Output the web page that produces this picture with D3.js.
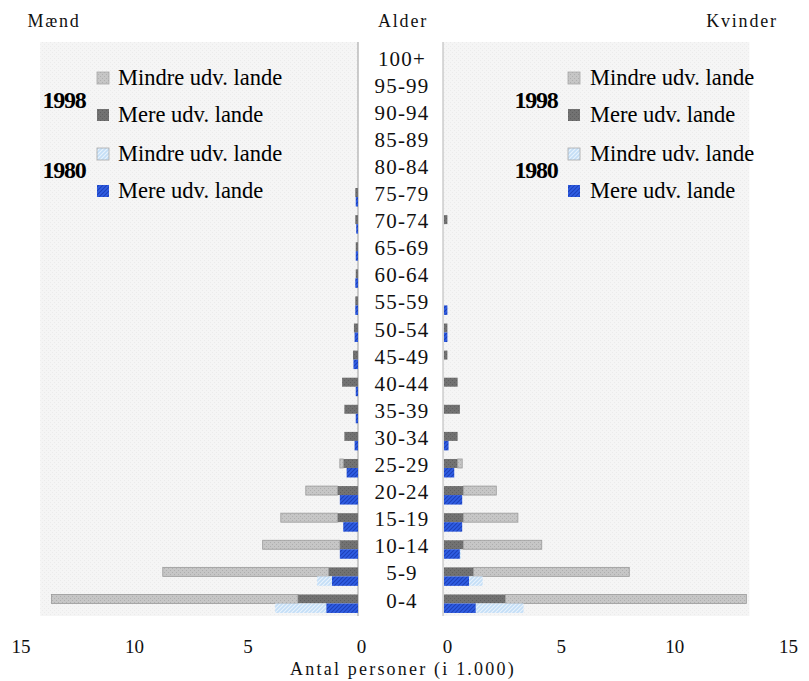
<!DOCTYPE html>
<html>
<head>
<meta charset="utf-8">
<script src="https://cdn.jsdelivr.net/npm/d3@7"></script>
<style>
  html, body { margin: 0; padding: 0; background: #ffffff; }
  svg { display: block; font-family: "Liberation Serif", "DejaVu Serif", serif; }
</style>
</head>
<body>
<svg id="chart" width="809" height="681"></svg>
<script>
// ---- data (thousands of persons) ----
const ages = ["0-4","5-9","10-14","15-19","20-24","25-29","30-34","35-39","40-44","45-49",
              "50-54","55-59","60-64","65-69","70-74","75-79","80-84","85-89","90-94","95-99","100+"];

// Men
const men1998Mere   = [2.65,1.3,0.8,0.9,0.9,0.65,0.6,0.6,0.7,0.22,0.18,0.12,0.1,0.1,0.12,0.12,0,0,0,0,0];
const men1998Mindre = [10.85,7.3,3.4,2.5,1.4,0.15,0,0,0,0,0,0,0,0,0,0,0,0,0,0,0];
const men1980Mere   = [1.4,1.15,0.8,0.65,0.8,0.5,0.15,0.1,0.1,0.2,0.15,0.12,0.12,0.1,0.08,0.1,0,0,0,0,0];
const men1980Mindre = [2.25,0.65,0,0,0,0,0,0,0,0,0,0,0,0,0,0,0,0,0,0,0];

// Women
const women1998Mere   = [2.7,1.3,0.85,0.85,0.85,0.6,0.6,0.7,0.6,0.15,0.15,0,0,0,0.15,0,0,0,0,0,0];
const women1998Mindre = [10.6,6.85,3.45,2.4,1.45,0.2,0,0,0,0,0,0,0,0,0,0,0,0,0,0,0];
const women1980Mere   = [1.4,1.1,0.7,0.8,0.8,0.45,0.2,0,0,0,0.15,0.15,0,0,0,0,0,0,0,0,0];
const women1980Mindre = [2.1,0.6,0.05,0,0,0,0,0,0,0,0,0,0,0,0,0,0,0,0,0,0];

const tickValues = [0, 5, 10, 15];
const legendYears = ["1998", "1980"];
const legendLabels = ["Mindre udv. lande", "Mere udv. lande", "Mindre udv. lande", "Mere udv. lande"];
const legendKeys = ["p98mindre", "p98mere", "p80mindre", "p80mere"];

// ---- layout ----
const svg = d3.select("#chart");
const defs = svg.append("defs");

function pat(id, bg, fg, kind) {
  const p = defs.append("pattern").attr("id", id).attr("patternUnits", "userSpaceOnUse")
    .attr("width", 4).attr("height", 4);
  p.append("rect").attr("width", 4).attr("height", 4).attr("fill", bg);
  if (kind === "dots") {
    p.append("rect").attr("x", 0).attr("y", 0).attr("width", 1).attr("height", 1).attr("fill", fg);
    p.append("rect").attr("x", 2).attr("y", 2).attr("width", 1).attr("height", 1).attr("fill", fg);
  } else if (kind === "diag") {
    p.append("path").attr("d", "M-1,5 L5,-1 M3,5 L5,3 M-1,1 L1,-1").attr("stroke", fg).attr("stroke-width", 1.1);
  }
}
pat("p98mindre", "#c6c6c6", "#aeaeae", "dots");
pat("p98mere", "#727272", "#5e5e5e", "dots");
pat("p80mindre", "#c4def6", "#eaf4fd", "diag");
pat("p80mere", "#2f5ee4", "#1c3fb8", "diag");
pat("pbg", "#f5f5f5", "#ebebeb", "dots");

const yTop = 44.5, yBot = 613.5;
const y = d3.scaleBand().domain(ages.slice().reverse()).range([yTop, yBot]).padding(0);

const xL = d3.scaleLinear().domain([0, 15]).range([358, 17.5]);
const xR = d3.scaleLinear().domain([0, 15]).range([444, 785]);

// panel backgrounds
svg.append("rect").attr("x", xL(14)).attr("y", 42).attr("width", xL(0) - xL(14)).attr("height", 574)
  .attr("fill", "url(#pbg)");
svg.append("rect").attr("x", xR(0) - 1).attr("y", 42).attr("width", xR(13.3) - xR(0) + 4).attr("height", 574)
  .attr("fill", "url(#pbg)");
svg.append("line").attr("x1", xL(0)).attr("x2", xL(0)).attr("y1", 42).attr("y2", 616)
  .attr("stroke", "#9a9a9a").attr("stroke-width", 1);
svg.append("line").attr("x1", xR(0) - 1).attr("x2", xR(0) - 1).attr("y1", 42).attr("y2", 616)
  .attr("stroke", "#b5b5b5").attr("stroke-width", 1);

// ---- bars ----
function buildRows(mere, mindre) {
  return ages.map((a, i) => ({ age: a, mere: mere[i], mindre: mindre[i] }));
}
const stack = d3.stack().keys(["mere", "mindre"]);

const groups = [
  { side: "L", rows: buildRows(men1998Mere, men1998Mindre), off: -5.5, h: 9, fills: ["p98mere", "p98mindre"] },
  { side: "L", rows: buildRows(men1980Mere, men1980Mindre), off: 3.5, h: 9.5, fills: ["p80mere", "p80mindre"] },
  { side: "R", rows: buildRows(women1998Mere, women1998Mindre), off: -5.5, h: 9, fills: ["p98mere", "p98mindre"] },
  { side: "R", rows: buildRows(women1980Mere, women1980Mindre), off: 3.5, h: 9.5, fills: ["p80mere", "p80mindre"] }
];

groups.forEach(g => {
  const x = g.side === "L" ? xL : xR;
  const series = stack(g.rows);
  series.forEach((s, si) => {
    svg.append("g").selectAll("rect").data(s.filter(d => d[1] - d[0] > 0)).join("rect")
      .attr("x", d => Math.min(x(d[0]), x(d[1])))
      .attr("width", d => Math.abs(x(d[1]) - x(d[0])))
      .attr("y", d => y(d.data.age) + y.bandwidth() / 2 + g.off)
      .attr("height", g.h)
      .attr("fill", `url(#${g.fills[si]})`)
      .attr("stroke", si === 1 && g.fills[si] === "p98mindre" ? "#9a9a9a" : "none")
      .attr("stroke-width", 0.8);
  });
});

// ---- age labels ----
svg.append("g").selectAll("text").data(ages).join("text")
  .attr("x", 402)
  .attr("y", d => y(d) + y.bandwidth() / 2)
  .attr("dy", "0.36em")
  .attr("text-anchor", "middle")
  .attr("font-size", 21)
  .attr("letter-spacing", 1.2)
  .attr("fill", "#111")
  .text(d => d);

// ---- axes (tick labels only) ----
const axL = d3.axisBottom(xL).tickValues(tickValues).tickSize(0).tickFormat(d3.format("d"));
const axR = d3.axisBottom(xR).tickValues(tickValues).tickSize(0).tickFormat(d3.format("d"));
[[axL, 3], [axR, 3]].forEach(([ax, dx]) => {
  const g = svg.append("g").attr("transform", `translate(${dx},634)`).call(ax);
  g.select(".domain").remove();
  g.selectAll("text").attr("font-size", 19).attr("font-family", "Liberation Serif, serif").attr("fill", "#111")
    .attr("dy", "0.71em").attr("y", 6);
});

svg.append("text").attr("x", 403).attr("y", 675).attr("text-anchor", "middle")
  .attr("font-size", 18).attr("letter-spacing", 2.2).attr("fill", "#111")
  .text("Antal personer (i 1.000)");

// ---- titles ----
const titles = [{ t: "Mænd", x: 54 }, { t: "Alder", x: 403 }, { t: "Kvinder", x: 742 }];
svg.append("g").selectAll("text").data(titles).join("text")
  .attr("x", d => d.x).attr("y", 27).attr("text-anchor", "middle")
  .attr("font-size", 18).attr("letter-spacing", 1.8).attr("fill", "#111")
  .text(d => d.t);

// ---- legends ----
const legendBaselines = [85, 122, 161, 198];
const yearBaselines = [108, 178];
[{ sx: 97, tx: 118, yx: 64 }, { sx: 568, tx: 590, yx: 536 }].forEach(L => {
  const lg = svg.append("g");
  lg.selectAll("rect").data(legendKeys).join("rect")
    .attr("x", L.sx).attr("y", (d, i) => legendBaselines[i] - 13)
    .attr("width", 12).attr("height", 12)
    .attr("fill", d => `url(#${d})`)
    .attr("stroke", (d, i) => i % 2 === 0 ? "#a8a8a8" : "none").attr("stroke-width", 0.8);
  lg.selectAll("text.lab").data(legendLabels).join("text").attr("class", "lab")
    .attr("x", L.tx).attr("y", (d, i) => legendBaselines[i])
    .attr("font-size", 22.5).attr("letter-spacing", 0).attr("fill", "#000")
    .text(d => d);
  lg.selectAll("text.yr").data(legendYears).join("text").attr("class", "yr")
    .attr("x", L.yx).attr("y", (d, i) => yearBaselines[i])
    .attr("text-anchor", "middle")
    .attr("font-size", 24).attr("font-weight", "bold").attr("letter-spacing", -1.2).attr("fill", "#000")
    .text(d => d);
});
</script>
</body>
</html>
